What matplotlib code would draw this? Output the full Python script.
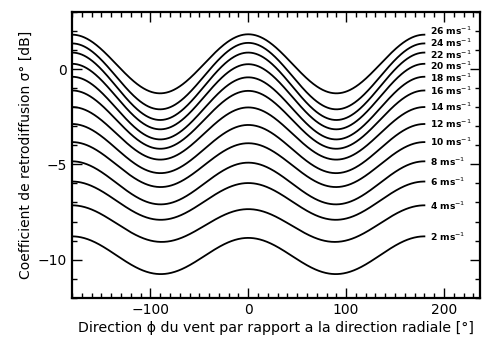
import numpy as np
import matplotlib
matplotlib.use("Agg")
import matplotlib.pyplot as plt
from matplotlib.ticker import MultipleLocator

plt.rcParams['font.family'] = ['DejaVu Sans']

# Wind speeds (m/s) and backscatter (dB) at upwind, crosswind and downwind
wind_speeds = [26, 24, 22, 20, 18, 16, 14, 12, 10, 8, 6, 4, 2]
sigma_upwind = [1.83, 1.38, 0.87, 0.26, -0.43, -1.14, -2.01, -2.93, -3.89, -4.91, -5.98, -7.35, -8.86]
sigma_crosswind = [-1.27, -2.11, -2.67, -3.16, -3.69, -4.18, -4.75, -5.46, -6.19, -7.10, -7.91, -9.07, -10.76]
sigma_downwind = [1.81, 1.35, 0.87, 0.28, -0.40, -1.12, -1.99, -2.88, -3.83, -4.84, -5.90, -7.15, -8.78]

# Small offsets so the crowded top labels stay apart
label_dy = {26: 0.22, 24: 0.03, 22: -0.10, 20: -0.12, 18: -0.08, 16: -0.04}

fig = plt.figure(figsize=(4.87, 3.40), dpi=100)
ax = fig.add_axes([0.148, 0.1244, 0.838, 0.8403])

phi = np.linspace(-180, 180, 721)
rad = np.deg2rad(phi)
for ws, up, cr, dn in zip(wind_speeds, sigma_upwind, sigma_crosswind, sigma_downwind):
    # Harmonic form B0 + B1 cos(phi) + B2 cos(2 phi) through the three values
    b0 = (up + dn + 2 * cr) / 4.0
    b1 = (up - dn) / 2.0
    b2 = (up + dn - 2 * cr) / 4.0
    sig = b0 + b1 * np.cos(rad) + b2 * np.cos(2 * rad)
    ax.plot(phi, sig, color='black', lw=1.3)
    ax.text(186, dn + label_dy.get(ws, 0.0), f"{ws} ms$^{{-1}}$",
            fontsize=6.6, fontweight='bold', va='center', ha='left')

ax.set_xlim(-180, 237)
ax.set_ylim(-12, 3)
ax.xaxis.set_major_locator(MultipleLocator(100))
ax.xaxis.set_minor_locator(MultipleLocator(10))
ax.yaxis.set_major_locator(MultipleLocator(5))
ax.yaxis.set_minor_locator(MultipleLocator(1))
ax.tick_params(which='both', direction='in', top=True, right=True, width=1.0)
ax.tick_params(which='major', length=7, labelsize=10)
ax.tick_params(which='minor', length=3.5)
for s in ax.spines.values():
    s.set_linewidth(1.6)

ax.set_xlabel("Direction \u03d5 du vent par rapport a la direction radiale [\u00b0]",
              fontsize=10.2, labelpad=3)
ax.set_ylabel("Coefficient de retrodiffusion \u03c3\u00b0 [dB]", fontsize=10)

fig.savefig("out.png", dpi=100)
